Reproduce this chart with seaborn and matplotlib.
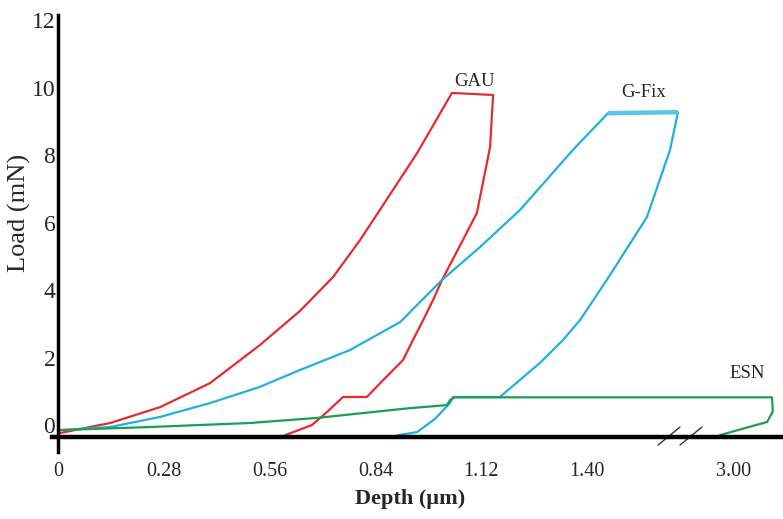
import numpy as np
import pandas as pd
import matplotlib
matplotlib.use("Agg")
import matplotlib.pyplot as plt
import seaborn as sns

# ---------------- data ----------------
gau_x = [0.005, 0.138, 0.270, 0.402, 0.534, 0.640, 0.728, 0.799, 0.860, 0.950, 1.042,
         1.151, 1.143, 1.108, 1.071, 1.016, 0.992, 0.966, 0.939, 0.913, 0.860, 0.817,
         0.754, 0.712, 0.672, 0.601]
gau_y = [-0.24, 0.06, 0.53, 1.24, 2.37, 3.38, 4.39, 5.48, 6.52, 8.06, 9.84,
         9.78, 8.24, 6.28, 5.48, 4.30, 3.70, 3.11, 2.52, 1.93, 1.33, 0.83,
         0.83, 0.39, 0.00, -0.30]

gfix_x = [0.005, 0.138, 0.270, 0.402, 0.534, 0.640, 0.772, 0.905, 1.016, 1.116, 1.222,
          1.362, 1.455, 1.640, 1.619, 1.558, 1.452, 1.381, 1.336, 1.275, 1.169, 1.045,
          1.037, 0.997, 0.950, 0.899]
gfix_y = [-0.15, -0.06, 0.24, 0.65, 1.13, 1.63, 2.22, 3.05, 4.30, 5.27, 6.37,
          8.15, 9.24, 9.27, 8.15, 6.16, 4.30, 3.11, 2.52, 1.84, 0.83, 0.83,
          0.65, 0.18, -0.21, -0.30]

esn_x = [0.005, 0.243, 0.508, 0.685, 0.931, 1.029, 1.037, 1.050, 3.103, 3.105, 3.090, 2.965]
esn_y = [-0.15, -0.06, 0.06, 0.21, 0.50, 0.59, 0.74, 0.82, 0.82, 0.40, 0.09, -0.30]

samples = ["GAU", "G-Fix", "ESN"]
colors = ["#e62b2e", "#1fb0e4", "#1c9e50"]
xticks = [0, 0.28, 0.56, 0.84, 1.12, 1.40, 3.00]
xtick_labels = ["0", "0.28", "0.56", "0.84", "1.12", "1.40", "3.00"]
yticks = [0, 2, 4, 6, 8, 10, 12]

# axis break (depth gap omitted between BREAK and BREAK + GAP)
BREAK = 1.646
GAP = 1.214

df = pd.concat([
    pd.DataFrame({"depth": gau_x, "load": gau_y, "sample": "GAU"}),
    pd.DataFrame({"depth": gfix_x, "load": gfix_y, "sample": "G-Fix"}),
    pd.DataFrame({"depth": esn_x, "load": esn_y, "sample": "ESN"}),
], ignore_index=True)

# ---------------- styling ----------------
sns.set_style("white")
plt.rcParams["font.family"] = ["Liberation Serif", "DejaVu Serif"]

fig = plt.figure(figsize=(7.83, 5.19), dpi=100)
ax = fig.add_axes([52 / 783, 67 / 519, 731 / 783, 437 / 519])


def fwd(x):
    x = np.asarray(x, dtype=float)
    return np.where(x <= BREAK, x, np.where(x >= BREAK + GAP, x - GAP, BREAK))


def inv(y):
    y = np.asarray(y, dtype=float)
    return np.where(y <= BREAK, y, y + GAP)


ax.set_xscale("function", functions=(fwd, inv))

sns.lineplot(data=df, x="depth", y="load", hue="sample", hue_order=samples,
             palette=colors, sort=False, estimator=None, legend=False,
             linewidth=1.6, ax=ax)

# thicker hold plateau of G-Fix
ax.plot(gfix_x[12:14], gfix_y[12:14], color="#5ac4ec", lw=3.2, solid_capstyle="butt")

ax.set_xlim(-0.016, 3.132)
ax.set_ylim(-0.8, 12.15)

# spines as crossing axis lines
for s in ["top", "right"]:
    ax.spines[s].set_visible(False)
ax.spines["left"].set_position(("data", 0))
ax.spines["bottom"].set_position(("data", -0.356))
ax.spines["left"].set_linewidth(2.5)
ax.spines["bottom"].set_linewidth(3.2)
ax.spines["left"].set_color("black")
ax.spines["bottom"].set_color("black")

ax.set_xticks(xticks)
ax.set_xticklabels(xtick_labels)
ax.set_yticks(yticks)
ax.tick_params(axis="x", length=0, pad=18, labelsize=14.5)
ax.tick_params(axis="y", length=0, pad=2, labelsize=17)
ax.grid(False)

ax.set_xlabel("Depth (µm)", fontsize=16, fontweight="bold")
ax.xaxis.set_label_coords(0.49, -0.085)
ax.set_ylabel("Load (mN)", fontsize=19, va="center")
ax.yaxis.set_label_coords(-0.044, 0.547)

# curve labels
ax.text(1.103, 10.19, "GAU", fontsize=13.5, ha="center", va="center")
ax.text(1.548, 9.84, "G-Fix", fontsize=13.5, ha="center", va="center")
ax.text(3.037, 1.54, "ESN", fontsize=13.5, ha="center", va="center")

# break marks on the depth axis
bx = (680 - 52) / 731
for dx in (-0.015, 0.015):
    ax.plot([bx + dx - 0.015, bx + dx + 0.015], [0.016, 0.057],
            transform=ax.transAxes, color="#333333", lw=1.0, clip_on=False)

fig.savefig("out.png", dpi=100)
